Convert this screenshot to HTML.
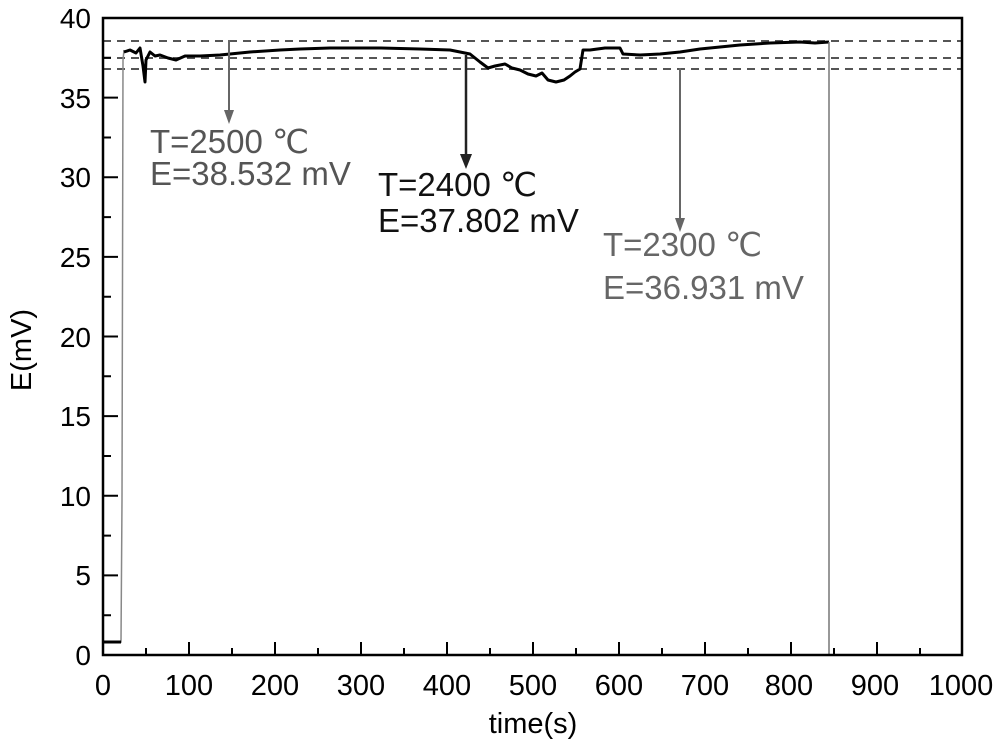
<!DOCTYPE html>
<html><head><style>body{margin:0;background:#fff}svg{display:block}</style></head><body>
<svg width="1000" height="752" viewBox="0 0 1000 752" font-family="Liberation Sans, Arial, sans-serif">
<g stroke="#555" stroke-width="2" stroke-dasharray="8,6">
<line x1="103" y1="41" x2="962" y2="41"/><line x1="103" y1="58" x2="962" y2="58"/><line x1="103" y1="69" x2="962" y2="69"/></g>
<polyline fill="none" stroke="#888" stroke-width="1.5" points="103,642 121,642 122,500 123,60 124,50"/>
<polyline fill="none" stroke="#000" stroke-width="3" points="103,642 121,642"/>
<polyline fill="none" stroke="#000" stroke-width="3" stroke-linejoin="round" points="124,52 130,50 136,53 140,48 143,66 145,82 146,60 150,52 155,56 160,55 168,58 176,60 185,56 200,56 220,55 250,52 280,50 300,49 330,48 380,48 420,49 450,50 470,54 480,62 488,68 495,66 505,64 512,68 520,70 528,74 536,76 542,73 548,80 556,82 564,80 570,76 575,72 580,69 583,50 590,50 605,48 620,48 623,54 640,55 660,54 680,52 700,49 740,45 770,43 800,42 815,43 829,42"/>
<line x1="829" y1="42" x2="829" y2="655" stroke="#777" stroke-width="1.5"/>
<line x1="229" y1="40" x2="229" y2="112" stroke="#666" stroke-width="2"/>
<polygon points="224,110 234,110 229,124" fill="#666"/>
<line x1="466" y1="55" x2="466" y2="156" stroke="#222" stroke-width="2.5"/>
<polygon points="460,154 472,154 466,169" fill="#222"/>
<line x1="680" y1="68" x2="680" y2="220" stroke="#666" stroke-width="2"/>
<polygon points="675,218 685,218 680,232" fill="#666"/>
<g font-size="33">
<text x="150" y="153" fill="#555">T=2500 ℃</text><text x="150" y="185" fill="#555">E=38.532 mV</text>
<text x="378" y="196" fill="#111">T=2400 ℃</text><text x="378" y="232" fill="#111">E=37.802 mV</text>
<text x="603" y="256" fill="#666">T=2300 ℃</text><text x="603" y="299" fill="#666">E=36.931 mV</text>
</g>
<rect x="103" y="18" width="859" height="637" fill="none" stroke="#000" stroke-width="2.5"/>
<g stroke="#000" stroke-width="2">
<path d="M103,655h15M103,575.4h15M103,495.8h15M103,416.1h15M103,336.5h15M103,256.9h15M103,177.3h15M103,97.6h15M103,18h15"/>
<path d="M103,615.2h8M103,535.6h8M103,456h8M103,376.3h8M103,296.7h8M103,217.1h8M103,137.5h8M103,57.8h8"/>
<path d="M189,655v-13M275,655v-13M361,655v-13M447,655v-13M533,655v-13M619,655v-13M705,655v-13M791,655v-13M877,655v-13"/>
<path d="M146,655v-7M232,655v-7M318,655v-7M404,655v-7M490,655v-7M576,655v-7M662,655v-7M748,655v-7M834,655v-7M920,655v-7"/>
</g>
<g font-size="28" text-anchor="end" fill="#000">
<text x="91" y="665">0</text><text x="91" y="585">5</text><text x="91" y="506">10</text><text x="91" y="426">15</text><text x="91" y="347">20</text><text x="91" y="267">25</text><text x="91" y="187">30</text><text x="91" y="108">35</text><text x="91" y="28">40</text>
</g>
<g font-size="29" text-anchor="middle" fill="#000">
<text x="103" y="695">0</text><text x="189" y="695">100</text><text x="275" y="695">200</text><text x="361" y="695">300</text><text x="447" y="695">400</text><text x="533" y="695">500</text><text x="619" y="695">600</text><text x="705" y="695">700</text><text x="789" y="695">800</text><text x="875" y="695">900</text><text x="961" y="695">1000</text>
<text x="533" y="733">time(s)</text>
<text transform="translate(31,350) rotate(-90)">E(mV)</text>
</g>
</svg>
</body></html>
